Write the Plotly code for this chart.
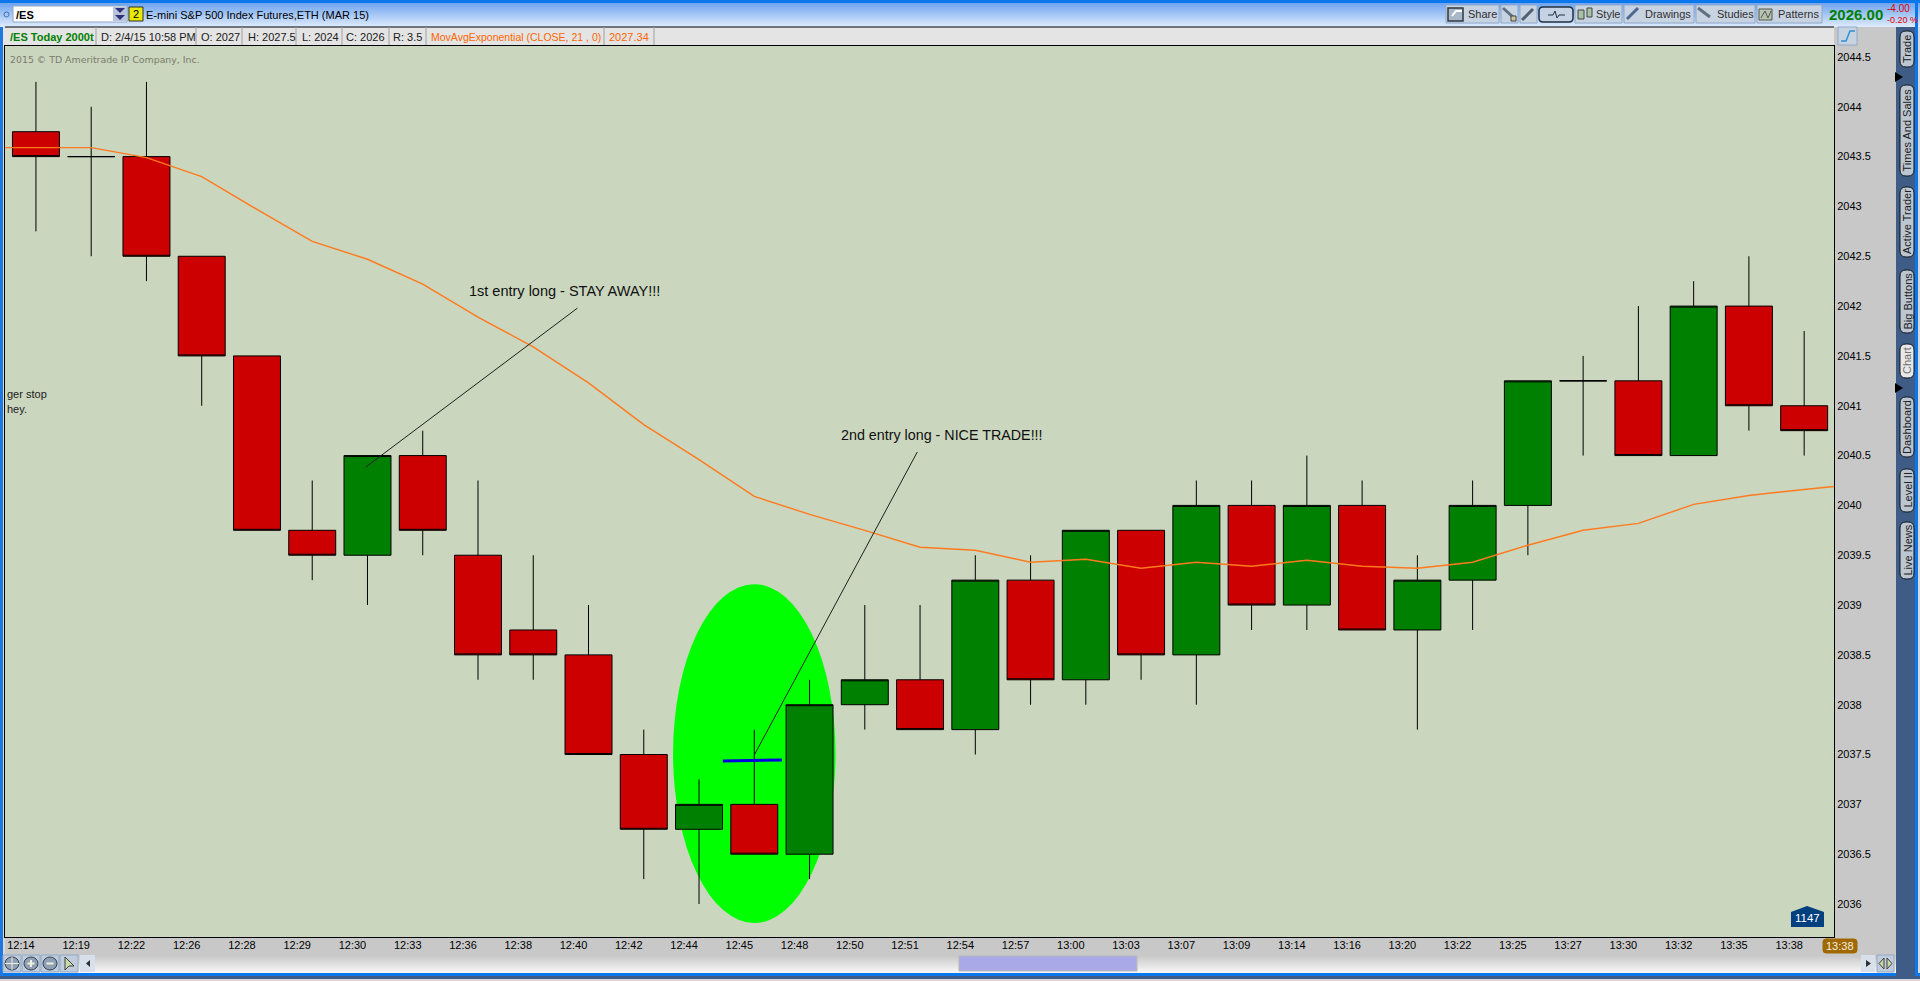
import plotly.graph_objects as go

W, H = 1920, 981
PLOT_L, PLOT_R, PLOT_T, PLOT_B = 5, 1834, 46, 937

times = ["12:14", "12:19", "12:22", "12:26", "12:28", "12:29", "12:30", "12:33", "12:36", "12:38", "12:40",
         "12:42", "12:44", "12:45", "12:48", "12:50", "12:51", "12:54", "12:57", "13:00", "13:03", "13:07",
         "13:09", "13:14", "13:16", "13:20", "13:22", "13:25", "13:27", "13:30", "13:32", "13:35", "13:38"]
open_ = [2043.75, 2043.5, 2043.5, 2042.5, 2041.5, 2039.75, 2039.5, 2040.5, 2039.5, 2038.75, 2038.5,
         2037.5, 2036.75, 2037, 2036.5, 2038, 2038.25, 2037.75, 2039.25, 2038.25, 2039.75, 2038.5,
         2040, 2039, 2040, 2038.75, 2039.25, 2040, 2041.25, 2041.25, 2040.5, 2042, 2041]
high = [2044.25, 2044, 2044.25, 2042.5, 2041.5, 2040.25, 2040.5, 2040.75, 2040.25, 2039.5, 2039,
        2037.75, 2037.25, 2037.75, 2038.25, 2039, 2039, 2039.5, 2039.5, 2039.75, 2039.75, 2040.25,
        2040.25, 2040.5, 2040.25, 2039.5, 2040.25, 2041.25, 2041.5, 2042, 2042.25, 2042.5, 2041.75]
low = [2042.75, 2042.5, 2042.25, 2041, 2039.75, 2039.25, 2039, 2039.5, 2038.25, 2038.25, 2037.5,
       2036.25, 2036, 2036.5, 2036.25, 2037.75, 2037.75, 2037.5, 2038, 2038, 2038.25, 2038,
       2038.75, 2038.75, 2038.75, 2037.75, 2038.75, 2039.5, 2040.5, 2040.5, 2040.5, 2040.75, 2040.5]
close = [2043.5, 2043.5, 2042.5, 2041.5, 2039.75, 2039.5, 2040.5, 2039.75, 2038.5, 2038.5, 2037.5,
         2036.75, 2037, 2036.5, 2038, 2038.25, 2037.75, 2039.25, 2038.25, 2039.75, 2038.5, 2040,
         2039, 2040, 2038.75, 2039.25, 2040, 2041.25, 2041.25, 2040.5, 2042, 2041, 2040.75]

# moving average runs past the first and last bar to the plot edges
ema_x = [-0.56] + list(range(33)) + [32.54]
ema = [2043.59, 2043.59, 2043.59, 2043.49, 2043.30, 2042.97, 2042.65, 2042.47, 2042.22, 2041.89, 2041.59,
       2041.23, 2040.81, 2040.46, 2040.09, 2039.91, 2039.75, 2039.58, 2039.55, 2039.43, 2039.46, 2039.37,
       2039.43, 2039.39, 2039.45, 2039.39, 2039.37, 2039.43, 2039.60, 2039.75, 2039.82, 2040.01, 2040.10,
       2040.16, 2040.19]

y_ticks = [2036, 2036.5, 2037, 2037.5, 2038, 2038.5, 2039, 2039.5, 2040, 2040.5, 2041, 2041.5, 2042,
           2042.5, 2043, 2043.5, 2044, 2044.5]
y_labels = ["2036", "2036.5", "2037", "2037.5", "2038", "2038.5", "2039", "2039.5", "2040", "2040.5", "2041",
            "2041.5", "2042", "2042.5", "2043", "2043.5", "2044", "2044.5"]

info_cells = [("/ES Today 2000t", 9, "#008000", True, 11), ("D: 2/4/15 10:58 PM", 100, "#202020", False, 11),
              ("O: 2027", 200, "#202020", False, 11), ("H: 2027.5", 247, "#202020", False, 11),
              ("L: 2024", 301, "#202020", False, 11), ("C: 2026", 345, "#202020", False, 11),
              ("R: 3.5", 392, "#202020", False, 11), ("MovAvgExponential (CLOSE, 21 , 0)", 430, "#FF6600", False, 10.5),
              ("2027.34", 608, "#FF6600", False, 11)]
info_seps = [96, 196, 242, 296, 342, 389, 426, 604, 654]
buttons = [(1446, 1499, "Share", 1467), (1501, 1518, "", 0), (1520, 1537, "", 0), (1575, 1622, "Style", 1595),
           (1624, 1694, "Drawings", 1644), (1696, 1755, "Studies", 1716), (1757, 1822, "Patterns", 1777)]
side_tabs = [("Trade", 31, 67), ("Times And Sales", 85, 176), ("Active Trader", 187, 257), ("Big Buttons", 270, 333),
             ("Chart", 344, 378), ("Dashboard", 397, 457), ("Level II", 469, 512), ("Live News", 522, 579)]


def px(x):
    return x / W


def py(y):
    return 1 - y / H


def path_str(pts, closed=True):
    s = "M" + " L".join("%.5f,%.5f" % (px(a), py(b)) for a, b in pts)
    return s + (" Z" if closed else "")


def rrect_str(x0, y0, x1, y1, r):
    c = lambda a, b: "%.5f,%.5f" % (px(a), py(b))
    return ("M" + c(x0 + r, y0) + " L" + c(x1 - r, y0) + " Q" + c(x1, y0) + " " + c(x1, y0 + r)
            + " L" + c(x1, y1 - r) + " Q" + c(x1, y1) + " " + c(x1 - r, y1)
            + " L" + c(x0 + r, y1) + " Q" + c(x0, y1) + " " + c(x0, y1 - r)
            + " L" + c(x0, y0 + r) + " Q" + c(x0, y0) + " " + c(x0 + r, y0) + " Z")


shapes = []
annotations = []


def rect(x0, y0, x1, y1, fill, line=None, lw=1):
    shapes.append(dict(type="rect", xref="paper", yref="paper", x0=px(x0), x1=px(x1), y0=py(y0), y1=py(y1),
                       fillcolor=fill, line=dict(color=line or fill, width=lw if line else 0), layer="below"))


def poly(pts, fill=None, line=None, lw=1, closed=True, layer="below"):
    shapes.append(dict(type="path", xref="paper", yref="paper", path=path_str(pts, closed),
                       fillcolor=fill or "rgba(0,0,0,0)", line=dict(color=line or "rgba(0,0,0,0)", width=lw), layer=layer))


def rrect(x0, y0, x1, y1, r, fill, line, lw=1):
    shapes.append(dict(type="path", xref="paper", yref="paper", path=rrect_str(x0, y0, x1, y1, r),
                       fillcolor=fill, line=dict(color=line, width=lw), layer="below"))


def text(s, x, y, size=11, color="#202020", bold=False, anchor="left", angle=0, family="Liberation Sans"):
    annotations.append(dict(text="<b>%s</b>" % s if bold else s, xref="paper", yref="paper", x=px(x), y=py(y),
                            xanchor=anchor, yanchor="middle", showarrow=False, textangle=angle, borderpad=0,
                            font=dict(family=family, size=size, color=color)))


def lerp(a, b, t):
    return "rgb(%d,%d,%d)" % tuple(a[k] + (b[k] - a[k]) * t for k in range(3))


# outer frame
rect(0, 0, W, 3, "#0A78EC")
for row in range(3, 27):
    rect(0, row, W, row + 1, lerp((112, 165, 240), (226, 237, 253), (row - 3) / 24))
rect(0, 27, 1834, 46, "#E4E4E4")
rect(1834, 27, 1896, 955, "#C8C8C8")
rect(5, 937, 1896, 955, "#C8C8C8")
for row in range(955, 973):
    rect(3, row, 1896, row + 1, lerp((200, 200, 200), (250, 250, 250), (row - 955) / 18))
rect(0, 973, W, 976, "#0A78EC")
rect(0, 976, W, 979, "#3E5C85")
rect(0, 27, 3, 976, "#1E78E0")
rect(1896, 27, 1915, 976, "#3E5C85")
rect(1915, 0, 1918, 976, "#0A78EC")
shapes.append(dict(type="line", xref="paper", yref="paper", x0=px(5), x1=px(1834), y0=py(27), y1=py(27),
                   line=dict(color="black", width=1), layer="below"))

# symbol box
rect(13, 6, 127, 22, "white", "#8FA8C8")
rect(113, 7, 127, 21, "#B8C4D8")
poly([(115, 8), (125, 8), (120, 13)], fill="#303080")
poly([(115, 15), (125, 15), (120, 20)], fill="#303080")
rect(129, 7, 143, 21, "#E8E800", "#303030")
text("/ES", 15, 15, 11, "black", True)
text("2", 136, 14.5, 11, "black", anchor="center")
text("E-mini S&P 500 Index Futures,ETH (MAR 15)", 145, 15, 11, "black")
shapes.append(dict(type="circle", xref="paper", yref="paper", x0=px(4), x1=px(9), y0=py(12), y1=py(17),
                   line=dict(color="#4070B0", width=1), layer="below"))

# info bar
for sep in info_seps:
    shapes.append(dict(type="line", xref="paper", yref="paper", x0=px(sep), x1=px(sep), y0=py(27), y1=py(46),
                       line=dict(color="#A0A0A0", width=1), layer="below"))
for label, x, colour, heavy, fs in info_cells:
    text(label, x, 37.5, fs, colour, heavy)

# toolbar
for x0, x1, label, tx in buttons:
    rect(x0, 5, x1, 23, "#C8D3E2", "#8FA8C8")
    if label:
        text(label, tx, 14, 11, "#303030")
rrect(1539, 7, 1573, 22, 4, "#C4D2E4", "#203040", 1.5)
poly([(1548, 15), (1553, 15), (1555, 11), (1557, 18), (1559, 15), (1565, 15)], line="#203040", closed=False)
rect(1448, 8, 1463, 21, "#A8B8C8", "#303840", 1.5)                          # share
poly([(1452, 16), (1456, 11), (1462, 11)], line="white", lw=2, closed=False)
poly([(1503, 8), (1513, 17)], line="#607080", lw=3, closed=False)            # study
rect(1511, 16, 1516, 21, "#C8C8A0", "#404040")
poly([(1522, 20), (1533, 9)], line="#506070", lw=3, closed=False)            # wrench
rect(1578, 10, 1584, 19, "#A8C0A8", "#404840")                               # style
rect(1587, 8, 1592, 17, "#A8C0A8", "#404840")
poly([(1627, 19), (1638, 8)], line="#506890", lw=3, closed=False)            # drawings
poly([(1698, 8), (1710, 17)], line="#607080", lw=3, closed=False)            # studies
rect(1759, 9, 1772, 20, "#B8C4B0", "#505850")                                # patterns
poly([(1761, 18), (1765, 11), (1768, 18), (1771, 11)], line="#505850", closed=False)
text("2026.00", 1828, 15, 15, "#008000", True)
text("-4.00", 1886, 9, 10, "#E00000")
text("-0.20 %", 1886, 20, 9, "#E00000")

# right hand tabs
for label, y0, y1 in side_tabs:
    active = label == "Chart"
    rrect(1900, y0, 1914, y1, 6, "#E8E8E8" if active else "#BCC6D0", "#101820")
    text(label, 1907, (y0 + y1) / 2, 11, "#707070" if active else "#202020", anchor="center", angle=-90)
poly([(1895, 72), (1895, 82), (1903, 77)], fill="black")
poly([(1895, 383), (1895, 393), (1903, 388)], fill="black")

# study icon above price axis
rect(1838, 27, 1857, 45, "#C8D3E2", "#8FA8C8")
poly([(1841, 41), (1846, 41), (1850, 31), (1855, 31)], line="#3090D0", lw=1.5, closed=False)

# bottom bar
for k, x0 in enumerate([3, 22, 41, 60]):
    rect(x0, 955, x0 + 18, 972, "#C0CCDC", "#8FA8C8")
for x0 in [12, 31, 50]:
    shapes.append(dict(type="circle", xref="paper", yref="paper", x0=px(x0 - 7), x1=px(x0 + 7), y0=py(957), y1=py(970),
                       fillcolor="#8FA0B4", line=dict(color="#304050", width=1), layer="below"))
poly([(12, 957), (12, 970)], line="#F0F0E0", closed=False)
poly([(5, 963.5), (19, 963.5)], line="#F0F0E0", closed=False)
poly([(31, 960), (31, 967)], line="#F0F0E0", lw=2, closed=False)
poly([(27.5, 963.5), (34.5, 963.5)], line="#F0F0E0", lw=2, closed=False)
poly([(46.5, 963.5), (53.5, 963.5)], line="#F0F0E0", lw=2, closed=False)
poly([(65, 957), (65, 970), (69, 966), (74, 966)], fill="#C8D8A8", line="#404040")
rect(80, 955, 95, 972, "#D8E0EC")
poly([(90, 960), (90, 967), (86, 963.5)], fill="#303030")
rect(959, 956, 1137, 971, "#A9A9E8", "#B8B8B8")
rect(1861, 955, 1875, 972, "#D8E0EC")
poly([(1866, 960), (1866, 967), (1871, 963.5)], fill="#303030")
rect(1877, 955, 1894, 972, "#C0CCDC", "#8FA8C8")
poly([(1884, 958), (1884, 969), (1879, 963.5)], fill="#C8D8A8", line="#404040")
poly([(1887, 958), (1887, 969), (1892, 963.5)], fill="#C8D8A8", line="#404040")

# badges, drawn over the plot
poly([(1791, 912), (1807, 906), (1824, 912), (1824, 927), (1791, 927)], fill="#00407F", layer="above")
text("1147", 1807.5, 918, 11.5, "white", anchor="center")
rrect(1823, 939, 1857, 953, 3, "#A06800", "#A06800")
text("13:38", 1840, 946, 11, "#F4F0E0", anchor="center")

# chart texts
text("2015 © TD Ameritrade IP Company, Inc.", 9, 59, 9.4, "#7A7A6E", family="DejaVu Sans")
text("ger stop", 5.5, 394, 11, "#202020")
text("hey.", 5.5, 409, 11, "#202020")
text("1st entry long - STAY AWAY!!!", 468, 291, 14.5, "#101010")
text("2nd entry long - NICE TRADE!!!", 840, 435, 14.3, "#101010")

# drawings on the chart, in bar index / price
highlight_x = [11.53, 14.47]
highlight_y = [2035.81, 2039.21]
entry_x = [12.43, 13.5]
entry_y = [2037.435, 2037.445]
note1_x = [5.97, 9.8]
note1_y = [2040.385, 2041.98]
note2_x = [13.0, 15.95]
note2_y = [2037.495, 2040.536]

shapes.append(dict(type="circle", xref="x", yref="y", x0=highlight_x[0], x1=highlight_x[1], y0=highlight_y[0],
                   y1=highlight_y[1], fillcolor="#00FF00", line=dict(width=0), layer="below"))
for lx, ly, colour, lw in [(entry_x, entry_y, "#0000E0", 3), (note1_x, note1_y, "#202020", 1), (note2_x, note2_y, "#202020", 1)]:
    shapes.append(dict(type="line", xref="x", yref="y", x0=lx[0], x1=lx[1], y0=ly[0], y1=ly[1],
                       line=dict(color=colour, width=lw), layer="above"))

fig = go.Figure()
fig.add_trace(go.Candlestick(
    x=list(range(33)), open=open_, high=high, low=low, close=close, whiskerwidth=0, hoverinfo="skip",
    increasing=dict(fillcolor="#008000", line=dict(color="black", width=1)),
    decreasing=dict(fillcolor="#CC0000", line=dict(color="black", width=1)),
))
fig.add_trace(go.Scatter(x=ema_x, y=ema, mode="lines", line=dict(color="#FF7A1E", width=1.4), hoverinfo="skip"))

fig.update_layout(
    width=W, height=H, margin=dict(l=0, r=0, t=0, b=0), autosize=False, showlegend=False,
    paper_bgcolor="#D8D8D8", plot_bgcolor="#CAD6BD", boxgap=0.15, boxgroupgap=0, shapes=shapes, annotations=annotations,
    font=dict(family="Liberation Sans", size=11, color="black"),
    xaxis=dict(domain=[px(PLOT_L), px(PLOT_R)], range=[-0.56, 32.54], tickvals=list(range(33)), ticktext=times,
               ticklabelshift=-15, ticklabelstandoff=-2, showgrid=False, zeroline=False, showline=True, mirror=True,
               linecolor="black", linewidth=1, ticks="", rangeslider=dict(visible=False), tickangle=0, tickfont=dict(size=11)),
    yaxis=dict(domain=[py(PLOT_B), py(PLOT_T)], range=[2035.669, 2044.61], side="right", tickvals=y_ticks,
               ticktext=y_labels, showgrid=False, zeroline=False, showline=True, mirror=True, linecolor="black",
               linewidth=1, ticks="", tickfont=dict(size=11)),
)

fig.write_html("out.html", config={"displayModeBar": False},
               post_script="document.body.style.margin='0';document.body.style.overflow='hidden';")
